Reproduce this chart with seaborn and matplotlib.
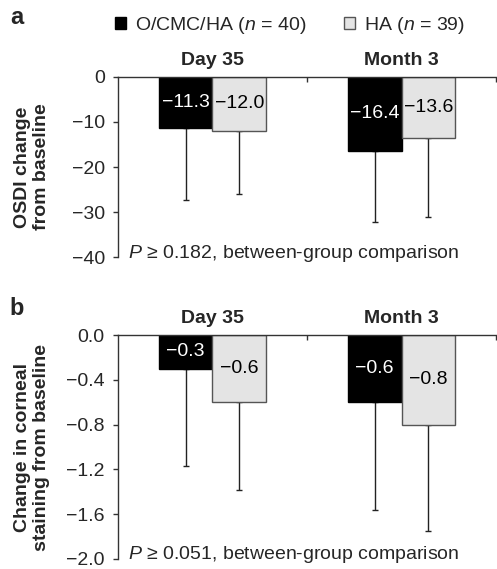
import numpy as np
import pandas as pd
import matplotlib
matplotlib.use('Agg')
import matplotlib.pyplot as plt
import seaborn as sns
from matplotlib.patches import Patch

sns.set_style('ticks')
plt.rcParams['font.family'] = ['Liberation Sans', 'DejaVu Sans']
plt.rcParams['mathtext.fontset'] = 'custom'
plt.rcParams['mathtext.it'] = 'Liberation Sans:italic'
plt.rcParams['mathtext.rm'] = 'Liberation Sans'

# data
timepoints = ['Day 35', 'Month 3']
groups = ['O/CMC/HA', 'HA']
group_labels = ['O/CMC/HA ($n$ = 40)', 'HA ($n$ = 39)']

osdi_ocmc = [-11.3, -16.4]
osdi_ha = [-12.0, -13.6]
osdi_sd_ocmc = [16.1, 15.9]
osdi_sd_ha = [13.9, 17.4]

stain_ocmc = [-0.3, -0.6]
stain_ha = [-0.6, -0.8]
stain_sd_ocmc = [0.87, 0.96]
stain_sd_ha = [0.78, 0.95]

osdi_ticks = [0, -10, -20, -30, -40]
stain_ticks = [0.0, -0.4, -0.8, -1.2, -1.6, -2.0]

colors = ['black', '#e4e4e4']
edge_colors = ['black', '#555555']
FS = 14


def minus(s):
    return s.replace('-', '\u2212')


def make_df(m1, m2, s1, s2):
    return pd.DataFrame({
        'time': timepoints * 2,
        'group': [groups[0]] * 2 + [groups[1]] * 2,
        'mean': m1 + m2,
        'sd': s1 + s2,
    })


def draw_panel(ax, df, ylim, yticks, tick_fmt, ylabel, ptext):
    sns.barplot(data=df, x='time', y='mean', hue='group', order=timepoints,
                hue_order=groups, palette=colors, width=0.57, errorbar=None,
                legend=False, saturation=1, linewidth=1, ax=ax)
    bar_conts = list(ax.containers)
    for i, cont in enumerate(bar_conts):
        sub = df[df['group'] == groups[i]].set_index('time').loc[timepoints]
        for p in cont.patches:
            p.set_edgecolor(edge_colors[i])
            p.set_zorder(2)
        xs = [p.get_x() + p.get_width() / 2 for p in cont.patches]
        ax.errorbar(xs, sub['mean'], yerr=[sub['sd'], np.zeros(len(sub))],
                    fmt='none', ecolor='#222222', elinewidth=1, capsize=2,
                    capthick=1, zorder=1)
        ax.bar_label(cont, labels=[minus('%.1f' % v) for v in sub['mean']],
                     label_type='center', fontsize=FS,
                     color='white' if i == 0 else 'black')

    ax.set_xlim(-0.5, 1.5)
    ax.set_ylim(*ylim)
    ax.set_yticks(yticks, labels=[minus(tick_fmt % t) for t in yticks])
    ax.set_xlabel('')
    ax.set_ylabel(ylabel, fontsize=FS, fontweight='bold', va='center')
    ax.yaxis.set_label_coords(-0.227, 0.5)

    ax.xaxis.tick_top()
    ax.set_xticks([0.5, 1.5], minor=True)
    ax.tick_params(axis='x', which='major', length=0, pad=5.5, labelsize=FS)
    ax.tick_params(axis='x', which='minor', top=True, bottom=False,
                   direction='in', length=3.5, width=1, color='#333333')
    for lbl in ax.get_xticklabels():
        lbl.set_fontweight('bold')
    ax.tick_params(axis='y', direction='out', length=3.5, width=1,
                   color='#333333', pad=6, labelsize=FS)

    for s in ['bottom', 'right']:
        ax.spines[s].set_visible(False)
    for s in ['left', 'top']:
        ax.spines[s].set_color('#333333')
        ax.spines[s].set_linewidth(1)

    ax.text(0.026, 0.02, ptext, transform=ax.transAxes, fontsize=FS,
            ha='left', va='center')


fig = plt.figure(figsize=(4.97, 5.69), dpi=100)
ax_a = fig.add_axes([0.2374, 0.5483, 0.7606, 0.3164])
ax_b = fig.add_axes([0.2374, 0.0176, 0.7606, 0.3936])

draw_panel(ax_a, make_df(osdi_ocmc, osdi_ha, osdi_sd_ocmc, osdi_sd_ha),
           (-40, 0), osdi_ticks, '%d', 'OSDI change\nfrom baseline',
           '$P$ \u2265 0.182, between-group comparison')
draw_panel(ax_b, make_df(stain_ocmc, stain_ha, stain_sd_ocmc, stain_sd_ha),
           (-2.0, 0), stain_ticks, '%.1f',
           'Change in corneal\nstaining from baseline',
           '$P$ \u2265 0.051, between-group comparison')

handles = [Patch(facecolor=colors[i], edgecolor=edge_colors[i], linewidth=1)
           for i in range(2)]
fig.legend(handles, group_labels, loc='center left', bbox_to_anchor=(0.231, 0.956),
           ncol=2, frameon=False, fontsize=FS, handlelength=0.57,
           handleheight=0.57, handletextpad=0.46, columnspacing=1.95,
           borderpad=0, borderaxespad=0)

fig.text(0.02, 0.970, 'a', fontsize=17, fontweight='bold', ha='left', va='center')
fig.text(0.02, 0.457, 'b', fontsize=17, fontweight='bold', ha='left', va='center')

fig.savefig('out.png', dpi=100)
